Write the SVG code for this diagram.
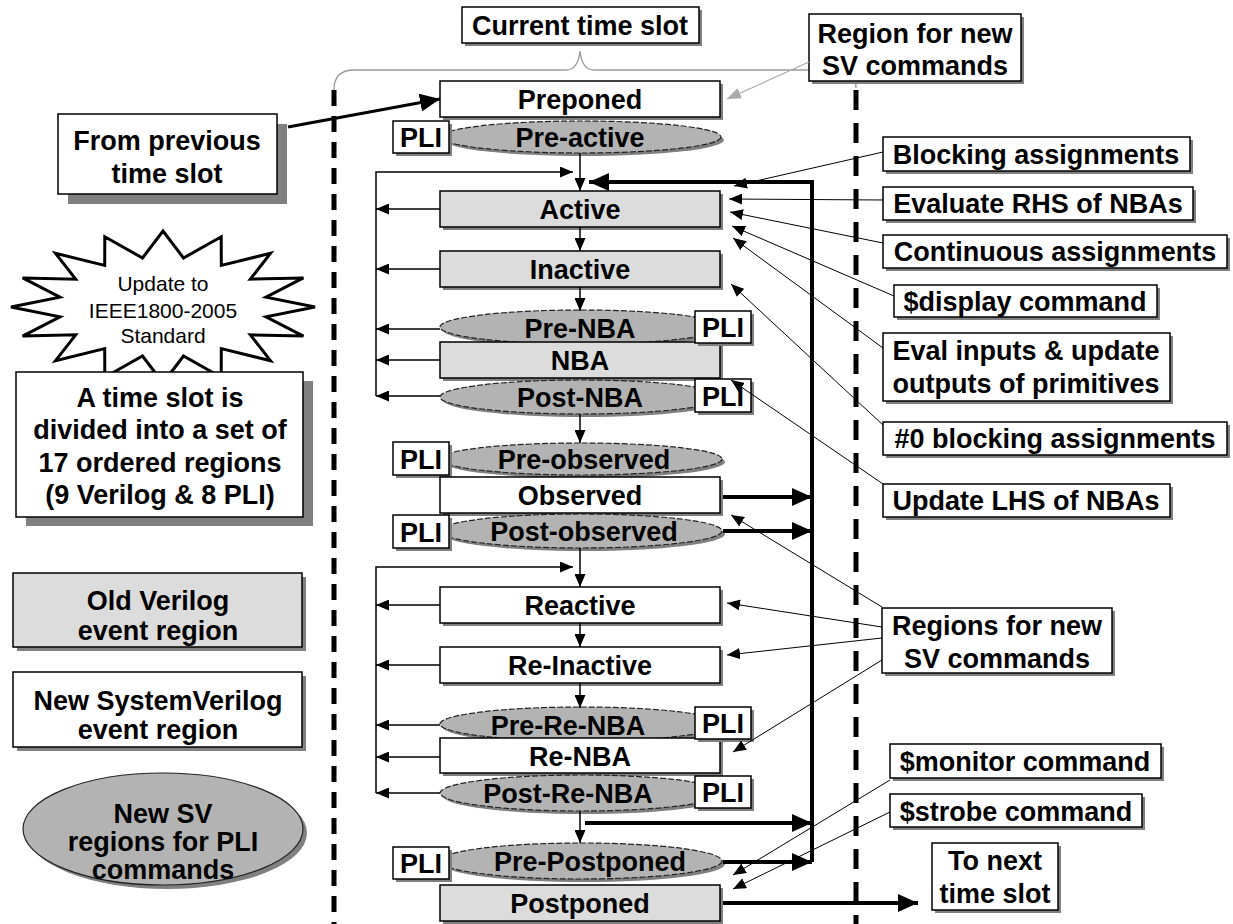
<svg xmlns="http://www.w3.org/2000/svg" width="1233" height="924" viewBox="0 0 1233 924">
<defs>
<style>
text{font-family:"Liberation Sans",Arial,Helvetica,sans-serif;font-weight:bold;font-size:27px;text-anchor:middle;fill:#000}
text.reg{font-weight:normal;font-size:21px}
.sh{fill:#808080}
.bw{fill:#fff;stroke:#000;stroke-width:1.5}
.bg{fill:#dcdcdc;stroke:#000;stroke-width:1.5}
.el{fill:#b3b3b3;stroke:#222;stroke-width:1.2;stroke-dasharray:6 2}
.lel{fill:#b3b3b3;stroke:#222;stroke-width:1.2}
.thin{fill:none;stroke:#000;stroke-width:1.5}
.call{fill:none;stroke:#000;stroke-width:1}
.thick{fill:none;stroke:#000;stroke-width:4}
.dashL{fill:none;stroke:#000;stroke-width:5;stroke-dasharray:16 10}
.dashR{fill:none;stroke:#000;stroke-width:5;stroke-dasharray:20 13}
.brace{fill:none;stroke:#9a9a9a;stroke-width:1.3}
</style>
<marker id="a" markerUnits="userSpaceOnUse" markerWidth="13" markerHeight="11" refX="13" refY="5.5" orient="auto"><path d="M0,0L13,5.5L0,11z" fill="#000"/></marker>
<marker id="ab" markerUnits="userSpaceOnUse" markerWidth="20" markerHeight="18" refX="20" refY="9" orient="auto"><path d="M0,0L20,9L0,18z" fill="#000"/></marker>
<marker id="ag" markerUnits="userSpaceOnUse" markerWidth="14" markerHeight="11" refX="14" refY="5.5" orient="auto"><path d="M0,0L14,5.5L0,11z" fill="#aaa"/></marker>
</defs>

<!-- time slot brace and boundaries -->
<path class="brace" d="M334,90 Q334,70 354,70 L566,70 Q578,70 580,51 Q582,70 594,70 L836,70 Q856,70 856,88"/>
<line class="dashL" x1="334" y1="90" x2="334" y2="924"/>
<line class="dashR" x1="856" y1="90" x2="856" y2="924"/>

<!-- left side notes -->
<g id="from-prev">
<rect class="sh" x="68" y="124" width="219" height="80"/>
<rect class="bw" x="58" y="114" width="219" height="80"/>
<text x="167" y="150">From previous</text>
<text x="167" y="183">time slot</text>
</g>
<g id="star">
<polygon points="163,231 183.5,258 221.2,236.8 221.3,265.4 270.5,253.3 250.3,279.2 303.4,277.9 266,297.2 315,307 266,316.8 303.4,336.1 250.3,334.8 270.5,360.7 221.3,348.6 221.2,377.2 183.5,356 163,383 142.5,356 104.8,377.2 104.7,348.6 55.5,360.7 75.7,334.8 22.6,336.1 60,316.8 11,307 60,297.2 22.6,277.9 75.7,279.2 55.5,253.3 104.7,265.4 104.8,236.8 142.5,258" fill="#fff" stroke="#000" stroke-width="3" stroke-linejoin="miter"/>
<text class="reg" x="163" y="291">Update to</text>
<text class="reg" x="163" y="318">IEEE1800-2005</text>
<text class="reg" x="163" y="343">Standard</text>
</g>
<g id="slot-note">
<rect class="sh" x="26" y="381" width="287" height="145"/>
<rect class="bw" x="16" y="372" width="287" height="145"/>
<text x="160" y="407">A time slot is</text>
<text x="160" y="439">divided into a set of</text>
<text x="160" y="472">17 ordered regions</text>
<text x="160" y="504">(9 Verilog &amp; 8 PLI)</text>
</g>
<g id="legend-old">
<rect class="sh" x="17" y="577" width="289" height="74"/>
<rect class="bg" x="13" y="573" width="289" height="74"/>
<text x="158" y="610">Old Verilog</text>
<text x="158" y="640">event region</text>
</g>
<g id="legend-new">
<rect class="sh" x="17" y="676" width="289" height="75"/>
<rect class="bw" x="13" y="672" width="289" height="75"/>
<text x="158" y="710">New SystemVerilog</text>
<text x="158" y="739">event region</text>
</g>
<g id="legend-pli">
<ellipse class="sh" cx="167" cy="833" rx="140" ry="56"/>
<ellipse class="lel" cx="163" cy="829" rx="140" ry="56"/>
<text x="163" y="823">New SV</text>
<text x="163" y="851">regions for PLI</text>
<text x="163" y="879">commands</text>
</g>

<!-- header labels -->
<g id="current-slot">
<rect class="sh" x="465" y="10" width="237" height="36"/>
<rect class="bw" x="462" y="7" width="237" height="36"/>
<text x="580" y="35">Current time slot</text>
</g>
<g id="region-new-top">
<rect class="sh" x="812" y="17" width="212" height="67"/>
<rect class="bw" x="809" y="14" width="212" height="67"/>
<text x="915" y="43">Region for new</text>
<text x="915" y="75">SV commands</text>
</g>

<!-- event regions -->
<g id="preponed">
<rect class="sh" x="443" y="84" width="280" height="36"/>
<rect class="bw" x="440" y="81" width="280" height="36"/>
<text x="580" y="109">Preponed</text>
</g>
<g id="pre-active">
<ellipse class="sh" cx="584" cy="140" rx="140" ry="16"/>
<ellipse class="el" cx="581" cy="137" rx="140" ry="16"/>
<text x="580" y="147">Pre-active</text>
<rect class="sh" x="396" y="124" width="56" height="32"/>
<rect class="bw" x="393" y="121" width="56" height="32"/>
<text x="421" y="147">PLI</text>
</g>
<g id="active">
<rect class="sh" x="443" y="194" width="280" height="36"/>
<rect class="bg" x="440" y="191" width="280" height="36"/>
<text x="580" y="219">Active</text>
</g>
<g id="inactive">
<rect class="sh" x="443" y="254" width="280" height="36"/>
<rect class="bg" x="440" y="251" width="280" height="36"/>
<text x="580" y="279">Inactive</text>
</g>
<g id="pre-nba">
<ellipse class="sh" cx="584" cy="330" rx="141" ry="17"/>
<ellipse class="el" cx="581" cy="327" rx="141" ry="17"/>
<text x="580" y="338">Pre-NBA</text>
</g>
<g id="nba">
<rect class="sh" x="443" y="345" width="280" height="36"/>
<rect class="bg" x="440" y="342" width="280" height="36"/>
<text x="580" y="370">NBA</text>
</g>
<g id="pre-nba-pli">
<rect class="sh" x="698" y="314" width="56" height="32"/>
<rect class="bw" x="695" y="311" width="56" height="32"/>
<text x="723" y="337">PLI</text>
</g>
<g id="post-nba">
<ellipse class="sh" cx="584" cy="400" rx="141" ry="17"/>
<ellipse class="el" cx="581" cy="397" rx="141" ry="17"/>
<text x="580" y="407">Post-NBA</text>
<rect class="sh" x="698" y="382" width="56" height="33"/>
<rect class="bw" x="695" y="379" width="56" height="33"/>
<text x="723" y="406">PLI</text>
</g>
<g id="pre-observed">
<ellipse class="sh" cx="584" cy="462" rx="141" ry="16"/>
<ellipse class="el" cx="581" cy="459" rx="141" ry="16"/>
<text x="584" y="469">Pre-observed</text>
<rect class="sh" x="396" y="445" width="56" height="33"/>
<rect class="bw" x="393" y="442" width="56" height="33"/>
<text x="421" y="469">PLI</text>
</g>
<g id="observed">
<rect class="sh" x="443" y="480" width="280" height="36"/>
<rect class="bw" x="440" y="477" width="280" height="36"/>
<text x="580" y="505">Observed</text>
</g>
<g id="post-observed">
<ellipse class="sh" cx="584" cy="534" rx="141" ry="17"/>
<ellipse class="el" cx="581" cy="531" rx="141" ry="17"/>
<text x="584" y="541">Post-observed</text>
<rect class="sh" x="396" y="518" width="56" height="33"/>
<rect class="bw" x="393" y="515" width="56" height="33"/>
<text x="421" y="542">PLI</text>
</g>
<g id="reactive">
<rect class="sh" x="443" y="590" width="280" height="36"/>
<rect class="bw" x="440" y="587" width="280" height="36"/>
<text x="580" y="615">Reactive</text>
</g>
<g id="re-inactive">
<rect class="sh" x="443" y="650" width="280" height="36"/>
<rect class="bw" x="440" y="647" width="280" height="36"/>
<text x="580" y="675">Re-Inactive</text>
</g>
<g id="pre-re-nba">
<ellipse class="sh" cx="584" cy="727" rx="141" ry="17"/>
<ellipse class="el" cx="581" cy="724" rx="141" ry="17"/>
<text x="568" y="735">Pre-Re-NBA</text>
</g>
<g id="re-nba">
<rect class="sh" x="443" y="741" width="280" height="35"/>
<rect class="bw" x="440" y="738" width="280" height="35"/>
<text x="580" y="766">Re-NBA</text>
</g>
<g id="pre-re-nba-pli">
<rect class="sh" x="698" y="710" width="56" height="32"/>
<rect class="bw" x="695" y="707" width="56" height="32"/>
<text x="723" y="733">PLI</text>
</g>
<g id="post-re-nba">
<ellipse class="sh" cx="584" cy="796" rx="141" ry="18"/>
<ellipse class="el" cx="581" cy="793" rx="141" ry="18"/>
<text x="568" y="803">Post-Re-NBA</text>
<rect class="sh" x="698" y="779" width="56" height="32"/>
<rect class="bw" x="695" y="776" width="56" height="32"/>
<text x="723" y="802">PLI</text>
</g>
<g id="pre-postponed">
<ellipse class="sh" cx="584" cy="864" rx="141" ry="18"/>
<ellipse class="el" cx="581" cy="861" rx="141" ry="18"/>
<text x="590" y="871">Pre-Postponed</text>
<rect class="sh" x="396" y="850" width="56" height="32"/>
<rect class="bw" x="393" y="847" width="56" height="32"/>
<text x="421" y="873">PLI</text>
</g>
<g id="postponed">
<rect class="sh" x="443" y="888" width="280" height="36"/>
<rect class="bg" x="440" y="885" width="280" height="36"/>
<text x="580" y="913">Postponed</text>
</g>

<!-- command labels -->
<g id="blocking">
<rect class="sh" x="886" y="140" width="307" height="34"/>
<rect class="bw" x="883" y="137" width="307" height="34"/>
<text x="1036" y="164">Blocking assignments</text>
</g>
<g id="eval-rhs">
<rect class="sh" x="886" y="190" width="310" height="33"/>
<rect class="bw" x="883" y="187" width="310" height="33"/>
<text x="1038" y="213">Evaluate RHS of NBAs</text>
</g>
<g id="continuous">
<rect class="sh" x="886" y="238" width="344" height="33"/>
<rect class="bw" x="883" y="235" width="344" height="33"/>
<text x="1055" y="261">Continuous assignments</text>
</g>
<g id="display">
<rect class="sh" x="897" y="288" width="263" height="32"/>
<rect class="bw" x="894" y="285" width="263" height="32"/>
<text x="1025" y="311">$display command</text>
</g>
<g id="eval-inputs">
<rect class="sh" x="886" y="336" width="287" height="68"/>
<rect class="bw" x="883" y="333" width="287" height="68"/>
<text x="1026" y="360">Eval inputs &amp; update</text>
<text x="1026" y="393">outputs of primitives</text>
</g>
<g id="zero-blocking">
<rect class="sh" x="886" y="425" width="344" height="33"/>
<rect class="bw" x="883" y="422" width="344" height="33"/>
<text x="1055" y="448">#0 blocking assignments</text>
</g>
<g id="update-lhs">
<rect class="sh" x="886" y="487" width="287" height="33"/>
<rect class="bw" x="883" y="484" width="287" height="33"/>
<text x="1026" y="510">Update LHS of NBAs</text>
</g>
<g id="regions-new">
<rect class="sh" x="885" y="611" width="230" height="65"/>
<rect class="bw" x="882" y="608" width="230" height="65"/>
<text x="997" y="635">Regions for new</text>
<text x="997" y="668">SV commands</text>
</g>
<g id="monitor">
<rect class="sh" x="893" y="747" width="271" height="34"/>
<rect class="bw" x="890" y="744" width="271" height="34"/>
<text x="1025" y="771">$monitor command</text>
</g>
<g id="strobe">
<rect class="sh" x="893" y="797" width="252" height="33"/>
<rect class="bw" x="890" y="794" width="252" height="33"/>
<text x="1016" y="821">$strobe command</text>
</g>
<g id="to-next">
<rect class="sh" x="935" y="846" width="126" height="67"/>
<rect class="bw" x="932" y="843" width="126" height="67"/>
<text x="995" y="870">To next</text>
<text x="995" y="903">time slot</text>
</g>

<!-- connectors -->
<g id="connectors">
<!-- entry from previous slot -->
<path d="M288,127 L440,99" fill="none" stroke="#000" stroke-width="3" marker-end="url(#ab)"/>
<path d="M809,62 L727,99" fill="none" stroke="#aaa" stroke-width="1.2" marker-end="url(#ag)"/>

<!-- downward flow -->
<path class="thin" d="M580,153 V191" marker-end="url(#a)"/>
<path class="thin" d="M580,227 V251" marker-end="url(#a)"/>
<path class="thin" d="M580,287 V311" marker-end="url(#a)"/>
<path class="thin" d="M580,414 V443" marker-end="url(#a)"/>
<path class="thin" d="M580,548 V587" marker-end="url(#a)"/>
<path class="thin" d="M580,623 V647" marker-end="url(#a)"/>
<path class="thin" d="M580,683 V708" marker-end="url(#a)"/>
<path class="thin" d="M580,811 V843" marker-end="url(#a)"/>

<!-- active-set iteration loop -->
<path class="thin" d="M376,396 V172 H573" marker-end="url(#a)"/>
<path class="thin" d="M440,209 H376" marker-end="url(#a)"/>
<path class="thin" d="M440,269 H376" marker-end="url(#a)"/>
<path class="thin" d="M440,329 H376" marker-end="url(#a)"/>
<path class="thin" d="M440,360 H376" marker-end="url(#a)"/>
<path class="thin" d="M440,396 H376" marker-end="url(#a)"/>

<!-- reactive-set iteration loop -->
<path class="thin" d="M376,793 V567 H573" marker-end="url(#a)"/>
<path class="thin" d="M440,605 H376" marker-end="url(#a)"/>
<path class="thin" d="M440,665 H376" marker-end="url(#a)"/>
<path class="thin" d="M440,725 H376" marker-end="url(#a)"/>
<path class="thin" d="M440,757 H376" marker-end="url(#a)"/>
<path class="thin" d="M440,793 H376" marker-end="url(#a)"/>

<!-- return to active region -->
<path class="thick" d="M812,862 V182 H589" marker-end="url(#ab)"/>
<path class="thick" d="M723,497 H812" marker-end="url(#ab)"/>
<path class="thick" d="M723,531 H812" marker-end="url(#ab)"/>
<path class="thick" d="M585,823 H812" marker-end="url(#ab)"/>
<path class="thick" d="M723,862 H812" marker-end="url(#ab)"/>
<path class="thick" d="M723,903 H918" marker-end="url(#ab)"/>

<!-- command call-outs -->
<path class="call" d="M883,152 L734,186" marker-end="url(#a)"/>
<path class="call" d="M883,200 L729,199" marker-end="url(#a)"/>
<path class="call" d="M883,243 L730,212" marker-end="url(#a)"/>
<path class="call" d="M894,296 L732,226" marker-end="url(#a)"/>
<path class="call" d="M883,348 L733,238" marker-end="url(#a)"/>
<path class="call" d="M883,425 L731,284" marker-end="url(#a)"/>
<path class="call" d="M883,484 L731,380" marker-end="url(#a)"/>
<path class="call" d="M882,607 L731,515" marker-end="url(#a)"/>
<path class="call" d="M882,627 L727,603" marker-end="url(#a)"/>
<path class="call" d="M882,638 L727,655" marker-end="url(#a)"/>
<path class="call" d="M882,660 L733,752" marker-end="url(#a)"/>
<path class="call" d="M890,780 L733,875" marker-end="url(#a)"/>
<path class="call" d="M890,812 L733,889" marker-end="url(#a)"/>
</g>
</svg>
